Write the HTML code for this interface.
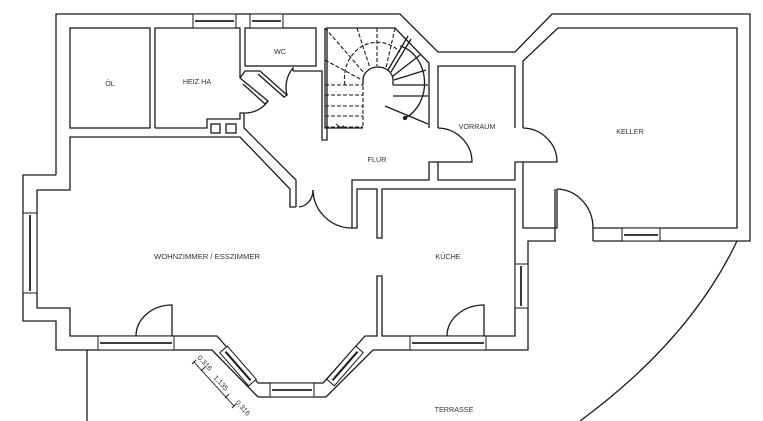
<!DOCTYPE html>
<html><head><meta charset="utf-8"><style>
html,body{margin:0;padding:0;background:#fff;width:763px;height:421px;overflow:hidden}
svg{display:block}
text{font-family:"Liberation Sans",sans-serif;font-size:7.2px;fill:#333}
</style></head><body>
<svg width="763" height="421" viewBox="0 0 763 421" xmlns="http://www.w3.org/2000/svg">
<g fill="none" stroke="#1a1a1a" stroke-width="1.3" stroke-linejoin="miter">
<path d="M56,175 L56,14 L400,14 L438,52 L515,52 L552,14 L750,14 L750,241 L593,241"/>
<path d="M556,241 L528,241 L528,350 L373,350 L326,397 L258,397 L212,350 L56,350 L56,321 L23,321 L23,175 L56,175"/>
<path d="M296,207 L290,207 L290,189 L240,137 L70,137 L70,190 L37,190 L37,308 L70,308 L70,336 L217,336 L258,383 L323,383 L365,336 L377,336 L377,276 L382,276 L382,336 L515,336 L515,189 L382,189 L382,238 L377,238 L377,189 L357,189 L357,228 L352,228 L352,180 L429,180 L429,162 L438,162 L438,180 L515,180 L515,162 L523,162 L523,228 L557,228 L557,189"/>
<path d="M296,207 L296,180 L244,128 L244,113"/>
<path d="M523,128 L523,61 L558,28 L737,28 L737,228 L593,228 L593,241"/>
<path d="M555,189 L555,241"/>
<path d="M557,189 A37,39 0 0 1 593,228"/>
<path d="M438,128 L438,66 L515,66 L515,128"/>
<path d="M429,128 L429,63 L395,28 L327,28 L327,140 L322,140 L322,71 L293,71"/>
<path d="M438,128 A35,34 0 0 1 472,162 L438,162"/>
<path d="M523,128 A35,34 0 0 1 557,162 L523,162"/>
<rect x="70" y="28" width="80" height="100"/>
<path d="M155,128 L155,28 L240,28 L240,78"/>
<path d="M155,128 L207,128 L207,119 L240,119 L240,113 L244,113"/>
<rect x="211" y="124" width="9" height="9"/>
<rect x="226" y="124" width="10" height="9"/>
<path d="M240,78 L268,101 L265,104 L243,84"/>
<path d="M268,101 A28,28 0 0 1 244,113"/>
<rect x="245" y="28" width="71" height="38"/>
<path d="M240,78 L245,71 L260,71 L287,95 L284,97 L258,74"/>
<path d="M287,95 A30,30 0 0 1 293,68 L293,71"/>
<path d="M299,207 A15,17 0 0 0 313,190"/>
<path d="M313,190 A39,39 0 0 0 352,228"/>
<path d="M325,28 L325,128 L363,128"/>
<g stroke-dasharray="4,2" stroke-width="1.1">
<path d="M325,85 L363,85 M325,95 L363,95 M325,106 L363,106 M325,116 L363,116 M325,127 L363,127 M363,80 L363,128"/>
<path d="M345,85 A33,36 0 0 1 400,52"/>
<path d="M325,28 L365,74 M357,28 L370,68 M377,28 L377,66 M395,28 L386,68 M325,60 L362,80"/>
<path d="M336,124 L341,128 L345,124"/>
</g>
<path d="M363,85 L363,80 A15,13 0 0 1 393,80 L393,85"/>
<path d="M388,70 L408,36 M391,72 L411,39 M393,76 L420,55 M394,80 L426,70 M393,85 L428,85 M393,96 L428,96 M385,106 L428,124"/>
<path d="M400,46 A32,38 0 0 1 405,118"/>
<circle cx="405" cy="118" r="1.5" fill="#1a1a1a"/>
<path d="M87,350 L87,421"/>
<path d="M737,241 Q690,340 580,421"/>
<path d="M172,336 L172,305 A36,31 0 0 0 136,336"/>
<path d="M484,336 L484,305 A37,31 0 0 0 447,336"/>
</g>
<g fill="#fff" stroke="#1a1a1a" stroke-width="1">
<rect x="193" y="14" width="43" height="14"/>
<rect x="250" y="14" width="33" height="14"/>
<rect x="23" y="213" width="14" height="80"/>
<rect x="98" y="336" width="76" height="14"/>
<rect x="410" y="336" width="76" height="14"/>
<rect x="270" y="383" width="44" height="14"/>
<rect x="622" y="228" width="38" height="13"/>
<rect x="515" y="264" width="13" height="44"/>
<g transform="translate(238,366) rotate(48.9)"><rect x="-22" y="-5" width="44" height="10"/><path d="M-19,0 L19,0" stroke-width="2"/></g>
<g transform="translate(345,366) rotate(-48.9)"><rect x="-22" y="-5" width="44" height="10"/><path d="M-19,0 L19,0" stroke-width="2"/></g>
</g>
<g stroke="#222" stroke-width="1.8">
<path d="M195,21 L234,21 M252,21 L281,21 M30,215 L30,291 M100,343 L172,343 M412,343 L484,343 M272,390 L312,390 M624,235 L658,235 M521,266 L521,306"/>
</g>
<g stroke="#1a1a1a" stroke-width="0.9">
<path d="M194,362 L234,406"/>
<path d="M192,364 L196,360 M201,371 L205,367 M225,398 L229,394 M232,408 L236,404"/>
</g>
<g font-size="5.6">
<text transform="translate(197,358) rotate(47)">0,316</text>
<text transform="translate(213,378) rotate(47)">1,135</text>
<text transform="translate(235,403) rotate(47)">0,316</text>
</g>
<text x="110" y="86" text-anchor="middle">ÖL</text>
<text x="197" y="84" text-anchor="middle">HEIZ HA</text>
<text x="280" y="54" text-anchor="middle">WC</text>
<text x="377" y="162" text-anchor="middle">FLUR</text>
<text x="477" y="129" text-anchor="middle">VORRAUM</text>
<text x="630" y="134" text-anchor="middle">KELLER</text>
<text x="207" y="259" text-anchor="middle" textLength="106" lengthAdjust="spacingAndGlyphs">WOHNZIMMER / ESSZIMMER</text>
<text x="448" y="259" text-anchor="middle">KÜCHE</text>
<text x="454" y="412" text-anchor="middle">TERRASSE</text>
</svg>
</body></html>
